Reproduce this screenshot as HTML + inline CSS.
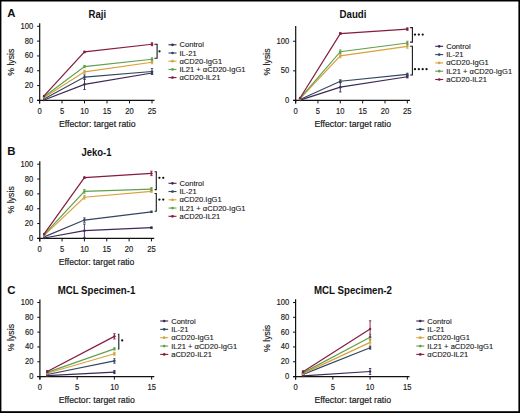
<!DOCTYPE html><html><head><meta charset="utf-8"><style>html,body{margin:0;padding:0;background:#fff;}svg{display:block;}</style></head><body>
<svg width="520" height="413" viewBox="0 0 520 413" font-family="'Liberation Sans', sans-serif">
<rect x="0" y="0" width="520" height="413" fill="#fff"/>
<path d="M39.7 23.2V103.4M37.1 100.4H154.5" stroke="#111" stroke-width="1.2" fill="none"/>
<path d="M37.1 100.4H39.7M37.1 85.58H39.7M37.1 70.76H39.7M37.1 55.94H39.7M37.1 41.12H39.7M37.1 26.3H39.7M39.5 100.4V103.4M62 100.4V103.4M84.5 100.4V103.4M107 100.4V103.4M129.5 100.4V103.4M152 100.4V103.4" stroke="#111" stroke-width="1" fill="none"/>
<text x="33.2" y="102.9" text-anchor="end" font-size="8.2" fill="#1a1a1a" stroke="#1a1a1a" stroke-width="0.15" textLength="4.24" lengthAdjust="spacingAndGlyphs">0</text>
<text x="33.2" y="88.08" text-anchor="end" font-size="8.2" fill="#1a1a1a" stroke="#1a1a1a" stroke-width="0.15" textLength="8.48" lengthAdjust="spacingAndGlyphs">20</text>
<text x="33.2" y="73.26" text-anchor="end" font-size="8.2" fill="#1a1a1a" stroke="#1a1a1a" stroke-width="0.15" textLength="8.48" lengthAdjust="spacingAndGlyphs">40</text>
<text x="33.2" y="58.44" text-anchor="end" font-size="8.2" fill="#1a1a1a" stroke="#1a1a1a" stroke-width="0.15" textLength="8.48" lengthAdjust="spacingAndGlyphs">60</text>
<text x="33.2" y="43.62" text-anchor="end" font-size="8.2" fill="#1a1a1a" stroke="#1a1a1a" stroke-width="0.15" textLength="8.48" lengthAdjust="spacingAndGlyphs">80</text>
<text x="33.2" y="28.8" text-anchor="end" font-size="8.2" fill="#1a1a1a" stroke="#1a1a1a" stroke-width="0.15" textLength="12.72" lengthAdjust="spacingAndGlyphs">100</text>
<text x="39.5" y="113.8" text-anchor="middle" font-size="8.2" fill="#1a1a1a" stroke="#1a1a1a" stroke-width="0.15" textLength="4.24" lengthAdjust="spacingAndGlyphs">0</text>
<text x="62" y="113.8" text-anchor="middle" font-size="8.2" fill="#1a1a1a" stroke="#1a1a1a" stroke-width="0.15" textLength="4.24" lengthAdjust="spacingAndGlyphs">5</text>
<text x="84.5" y="113.8" text-anchor="middle" font-size="8.2" fill="#1a1a1a" stroke="#1a1a1a" stroke-width="0.15" textLength="8.48" lengthAdjust="spacingAndGlyphs">10</text>
<text x="107" y="113.8" text-anchor="middle" font-size="8.2" fill="#1a1a1a" stroke="#1a1a1a" stroke-width="0.15" textLength="8.48" lengthAdjust="spacingAndGlyphs">15</text>
<text x="129.5" y="113.8" text-anchor="middle" font-size="8.2" fill="#1a1a1a" stroke="#1a1a1a" stroke-width="0.15" textLength="8.48" lengthAdjust="spacingAndGlyphs">20</text>
<text x="152" y="113.8" text-anchor="middle" font-size="8.2" fill="#1a1a1a" stroke="#1a1a1a" stroke-width="0.15" textLength="8.48" lengthAdjust="spacingAndGlyphs">25</text>
<text x="59" y="126.9" font-size="9.7" fill="#1a1a1a" stroke="#1a1a1a" stroke-width="0.2" textLength="76.5" lengthAdjust="spacingAndGlyphs">Effector: target ratio</text>
<text transform="translate(14.4 62.2) rotate(-90)" text-anchor="middle" font-size="9.6" fill="#1a1a1a" stroke="#1a1a1a" stroke-width="0.15" textLength="27.2" lengthAdjust="spacingAndGlyphs">% lysis</text>
<text x="97.3" y="17.5" text-anchor="middle" font-size="10.3" font-weight="bold" fill="#111" textLength="17.6" lengthAdjust="spacingAndGlyphs">Raji</text>
<polyline points="44,100.03 84.5,84.32 152,72.98" stroke="#3e2857" stroke-width="1.2" fill="none"/>
<polyline points="44,98.92 84.5,77.06 152,71.5" stroke="#33465f" stroke-width="1.2" fill="none"/>
<polyline points="44,97.44 84.5,71.8 152,62.24" stroke="#d9a23c" stroke-width="1.2" fill="none"/>
<polyline points="44,96.7 84.5,66.54 152,59.27" stroke="#62a050" stroke-width="1.2" fill="none"/>
<polyline points="44,95.95 84.5,51.94 152,44.23" stroke="#861b3e" stroke-width="1.2" fill="none"/>
<circle cx="44" cy="100.03" r="1.2" fill="#3e2857"/>
<path d="M84.5 79.13V89.51M83.3 79.13h2.4M83.3 89.51h2.4" stroke="#3e2857" stroke-width="0.9" fill="none"/>
<circle cx="84.5" cy="84.32" r="1.2" fill="#3e2857"/>
<path d="M152 71.87V74.09M150.8 71.87h2.4M150.8 74.09h2.4" stroke="#3e2857" stroke-width="0.9" fill="none"/>
<circle cx="152" cy="72.98" r="1.2" fill="#3e2857"/>
<circle cx="44" cy="98.92" r="1.2" fill="#33465f"/>
<path d="M84.5 74.84V79.28M83.3 74.84h2.4M83.3 79.28h2.4" stroke="#33465f" stroke-width="0.9" fill="none"/>
<circle cx="84.5" cy="77.06" r="1.2" fill="#33465f"/>
<path d="M152 68.54V74.47M150.8 68.54h2.4M150.8 74.47h2.4" stroke="#33465f" stroke-width="0.9" fill="none"/>
<circle cx="152" cy="71.5" r="1.2" fill="#33465f"/>
<circle cx="44" cy="97.44" r="1.2" fill="#d9a23c"/>
<path d="M84.5 70.32V73.28M83.3 70.32h2.4M83.3 73.28h2.4" stroke="#d9a23c" stroke-width="0.9" fill="none"/>
<circle cx="84.5" cy="71.8" r="1.2" fill="#d9a23c"/>
<path d="M152 60.76V63.72M150.8 60.76h2.4M150.8 63.72h2.4" stroke="#d9a23c" stroke-width="0.9" fill="none"/>
<circle cx="152" cy="62.24" r="1.2" fill="#d9a23c"/>
<circle cx="44" cy="96.7" r="1.2" fill="#62a050"/>
<path d="M84.5 65.42V67.65M83.3 65.42h2.4M83.3 67.65h2.4" stroke="#62a050" stroke-width="0.9" fill="none"/>
<circle cx="84.5" cy="66.54" r="1.2" fill="#62a050"/>
<path d="M152 57.79V60.76M150.8 57.79h2.4M150.8 60.76h2.4" stroke="#62a050" stroke-width="0.9" fill="none"/>
<circle cx="152" cy="59.27" r="1.2" fill="#62a050"/>
<circle cx="44" cy="95.95" r="1.2" fill="#861b3e"/>
<path d="M84.5 51.2V52.68M83.3 51.2h2.4M83.3 52.68h2.4" stroke="#861b3e" stroke-width="0.9" fill="none"/>
<circle cx="84.5" cy="51.94" r="1.2" fill="#861b3e"/>
<path d="M152 42.75V45.71M150.8 42.75h2.4M150.8 45.71h2.4" stroke="#861b3e" stroke-width="0.9" fill="none"/>
<circle cx="152" cy="44.23" r="1.2" fill="#861b3e"/>
<path d="M154.4 44.3H157.1V58.3H154.4" stroke="#1a1a1a" stroke-width="1.1" fill="none"/>
<circle cx="159.5" cy="51.3" r="1.15" fill="#111"/>
<path d="M168.5 44.8h8" stroke="#3e2857" stroke-width="1.1"/>
<circle cx="172.5" cy="44.8" r="1.35" fill="#3e2857"/>
<text x="179.5" y="47.35" font-size="7.8" fill="#1a1a1a" stroke="#1a1a1a" stroke-width="0.12" textLength="24.39" lengthAdjust="spacingAndGlyphs">Control</text>
<path d="M168.5 53h8" stroke="#33465f" stroke-width="1.1"/>
<circle cx="172.5" cy="53" r="1.35" fill="#33465f"/>
<text x="179.5" y="55.55" font-size="7.8" fill="#1a1a1a" stroke="#1a1a1a" stroke-width="0.12" textLength="17.25" lengthAdjust="spacingAndGlyphs">IL-21</text>
<path d="M168.5 61.2h8" stroke="#d9a23c" stroke-width="1.1"/>
<circle cx="172.5" cy="61.2" r="1.35" fill="#d9a23c"/>
<text x="179.5" y="63.75" font-size="7.8" fill="#1a1a1a" stroke="#1a1a1a" stroke-width="0.12" textLength="42.63" lengthAdjust="spacingAndGlyphs">αCD20-IgG1</text>
<path d="M168.5 69.4h8" stroke="#62a050" stroke-width="1.1"/>
<circle cx="172.5" cy="69.4" r="1.35" fill="#62a050"/>
<text x="179.5" y="71.95" font-size="7.8" fill="#1a1a1a" stroke="#1a1a1a" stroke-width="0.12" textLength="65.98" lengthAdjust="spacingAndGlyphs">IL21 + αCD20-IgG1</text>
<path d="M168.5 77.6h8" stroke="#861b3e" stroke-width="1.1"/>
<circle cx="172.5" cy="77.6" r="1.35" fill="#861b3e"/>
<text x="179.5" y="80.15" font-size="7.8" fill="#1a1a1a" stroke="#1a1a1a" stroke-width="0.12" textLength="40.95" lengthAdjust="spacingAndGlyphs">αCD20-IL21</text>
<path d="M295.7 26V103.4M293.1 100.4H410" stroke="#111" stroke-width="1.2" fill="none"/>
<path d="M293.1 100.4H295.7M293.1 70.83H295.7M293.1 41.25H295.7M295.6 100.4V103.4M317.95 100.4V103.4M340.3 100.4V103.4M362.65 100.4V103.4M385 100.4V103.4M407.35 100.4V103.4" stroke="#111" stroke-width="1" fill="none"/>
<text x="289.3" y="102.9" text-anchor="end" font-size="8.2" fill="#1a1a1a" stroke="#1a1a1a" stroke-width="0.15" textLength="4.24" lengthAdjust="spacingAndGlyphs">0</text>
<text x="289.3" y="73.33" text-anchor="end" font-size="8.2" fill="#1a1a1a" stroke="#1a1a1a" stroke-width="0.15" textLength="8.48" lengthAdjust="spacingAndGlyphs">50</text>
<text x="289.3" y="43.75" text-anchor="end" font-size="8.2" fill="#1a1a1a" stroke="#1a1a1a" stroke-width="0.15" textLength="12.72" lengthAdjust="spacingAndGlyphs">100</text>
<text x="295.6" y="113.8" text-anchor="middle" font-size="8.2" fill="#1a1a1a" stroke="#1a1a1a" stroke-width="0.15" textLength="4.24" lengthAdjust="spacingAndGlyphs">0</text>
<text x="317.95" y="113.8" text-anchor="middle" font-size="8.2" fill="#1a1a1a" stroke="#1a1a1a" stroke-width="0.15" textLength="4.24" lengthAdjust="spacingAndGlyphs">5</text>
<text x="340.3" y="113.8" text-anchor="middle" font-size="8.2" fill="#1a1a1a" stroke="#1a1a1a" stroke-width="0.15" textLength="8.48" lengthAdjust="spacingAndGlyphs">10</text>
<text x="362.65" y="113.8" text-anchor="middle" font-size="8.2" fill="#1a1a1a" stroke="#1a1a1a" stroke-width="0.15" textLength="8.48" lengthAdjust="spacingAndGlyphs">15</text>
<text x="385" y="113.8" text-anchor="middle" font-size="8.2" fill="#1a1a1a" stroke="#1a1a1a" stroke-width="0.15" textLength="8.48" lengthAdjust="spacingAndGlyphs">20</text>
<text x="407.35" y="113.8" text-anchor="middle" font-size="8.2" fill="#1a1a1a" stroke="#1a1a1a" stroke-width="0.15" textLength="8.48" lengthAdjust="spacingAndGlyphs">25</text>
<text x="314.5" y="126.9" font-size="9.7" fill="#1a1a1a" stroke="#1a1a1a" stroke-width="0.2" textLength="76.5" lengthAdjust="spacingAndGlyphs">Effector: target ratio</text>
<text transform="translate(269.7 62) rotate(-90)" text-anchor="middle" font-size="9.6" fill="#1a1a1a" stroke="#1a1a1a" stroke-width="0.15" textLength="27.2" lengthAdjust="spacingAndGlyphs">% lysis</text>
<text x="353" y="17.8" text-anchor="middle" font-size="10.3" font-weight="bold" fill="#111" textLength="27" lengthAdjust="spacingAndGlyphs">Daudi</text>
<polyline points="300.07,100.1 340.3,87.21 407.35,76.74" stroke="#3e2857" stroke-width="1.2" fill="none"/>
<polyline points="300.07,99.51 340.3,81.24 407.35,74.37" stroke="#33465f" stroke-width="1.2" fill="none"/>
<polyline points="300.07,98.63 340.3,55.92 407.35,46.46" stroke="#d9a23c" stroke-width="1.2" fill="none"/>
<polyline points="300.07,98.33 340.3,51.72 407.35,43.02" stroke="#62a050" stroke-width="1.2" fill="none"/>
<polyline points="300.07,98.03 340.3,33.56 407.35,29.07" stroke="#861b3e" stroke-width="1.2" fill="none"/>
<circle cx="300.07" cy="100.1" r="1.2" fill="#3e2857"/>
<path d="M340.3 82.48V91.94M339.1 82.48h2.4M339.1 91.94h2.4" stroke="#3e2857" stroke-width="0.9" fill="none"/>
<circle cx="340.3" cy="87.21" r="1.2" fill="#3e2857"/>
<path d="M407.35 75.56V77.92M406.15 75.56h2.4M406.15 77.92h2.4" stroke="#3e2857" stroke-width="0.9" fill="none"/>
<circle cx="407.35" cy="76.74" r="1.2" fill="#3e2857"/>
<circle cx="300.07" cy="99.51" r="1.2" fill="#33465f"/>
<path d="M340.3 79.76V82.71M339.1 79.76h2.4M339.1 82.71h2.4" stroke="#33465f" stroke-width="0.9" fill="none"/>
<circle cx="340.3" cy="81.24" r="1.2" fill="#33465f"/>
<path d="M407.35 73.19V75.56M406.15 73.19h2.4M406.15 75.56h2.4" stroke="#33465f" stroke-width="0.9" fill="none"/>
<circle cx="407.35" cy="74.37" r="1.2" fill="#33465f"/>
<circle cx="300.07" cy="98.63" r="1.2" fill="#d9a23c"/>
<path d="M340.3 54.14V57.69M339.1 54.14h2.4M339.1 57.69h2.4" stroke="#d9a23c" stroke-width="0.9" fill="none"/>
<circle cx="340.3" cy="55.92" r="1.2" fill="#d9a23c"/>
<path d="M407.35 44.68V48.23M406.15 44.68h2.4M406.15 48.23h2.4" stroke="#d9a23c" stroke-width="0.9" fill="none"/>
<circle cx="407.35" cy="46.46" r="1.2" fill="#d9a23c"/>
<circle cx="300.07" cy="98.33" r="1.2" fill="#62a050"/>
<path d="M340.3 49.95V53.49M339.1 49.95h2.4M339.1 53.49h2.4" stroke="#62a050" stroke-width="0.9" fill="none"/>
<circle cx="340.3" cy="51.72" r="1.2" fill="#62a050"/>
<path d="M407.35 41.25V44.8M406.15 41.25h2.4M406.15 44.8h2.4" stroke="#62a050" stroke-width="0.9" fill="none"/>
<circle cx="407.35" cy="43.02" r="1.2" fill="#62a050"/>
<circle cx="300.07" cy="98.03" r="1.2" fill="#861b3e"/>
<path d="M340.3 32.67V34.45M339.1 32.67h2.4M339.1 34.45h2.4" stroke="#861b3e" stroke-width="0.9" fill="none"/>
<circle cx="340.3" cy="33.56" r="1.2" fill="#861b3e"/>
<path d="M407.35 27.88V30.25M406.15 27.88h2.4M406.15 30.25h2.4" stroke="#861b3e" stroke-width="0.9" fill="none"/>
<circle cx="407.35" cy="29.07" r="1.2" fill="#861b3e"/>
<path d="M410.1 27.6H412.4V42.1H410.1" stroke="#1a1a1a" stroke-width="1.1" fill="none"/>
<path d="M410.1 46.2H412.4V75H410.1" stroke="#1a1a1a" stroke-width="1.1" fill="none"/>
<circle cx="415" cy="34.6" r="1.15" fill="#111"/>
<circle cx="418.85" cy="34.6" r="1.15" fill="#111"/>
<circle cx="422.7" cy="34.6" r="1.15" fill="#111"/>
<circle cx="415" cy="69.2" r="1.15" fill="#111"/>
<circle cx="418.85" cy="69.2" r="1.15" fill="#111"/>
<circle cx="422.7" cy="69.2" r="1.15" fill="#111"/>
<circle cx="426.55" cy="69.2" r="1.15" fill="#111"/>
<path d="M435.2 46.3h8" stroke="#3e2857" stroke-width="1.1"/>
<circle cx="439.2" cy="46.3" r="1.35" fill="#3e2857"/>
<text x="446.2" y="48.85" font-size="7.8" fill="#1a1a1a" stroke="#1a1a1a" stroke-width="0.12" textLength="24.39" lengthAdjust="spacingAndGlyphs">Control</text>
<path d="M435.2 54.6h8" stroke="#33465f" stroke-width="1.1"/>
<circle cx="439.2" cy="54.6" r="1.35" fill="#33465f"/>
<text x="446.2" y="57.15" font-size="7.8" fill="#1a1a1a" stroke="#1a1a1a" stroke-width="0.12" textLength="17.25" lengthAdjust="spacingAndGlyphs">IL-21</text>
<path d="M435.2 62.9h8" stroke="#d9a23c" stroke-width="1.1"/>
<circle cx="439.2" cy="62.9" r="1.35" fill="#d9a23c"/>
<text x="446.2" y="65.45" font-size="7.8" fill="#1a1a1a" stroke="#1a1a1a" stroke-width="0.12" textLength="42.63" lengthAdjust="spacingAndGlyphs">αCD20-IgG1</text>
<path d="M435.2 71.2h8" stroke="#62a050" stroke-width="1.1"/>
<circle cx="439.2" cy="71.2" r="1.35" fill="#62a050"/>
<text x="446.2" y="73.75" font-size="7.8" fill="#1a1a1a" stroke="#1a1a1a" stroke-width="0.12" textLength="65.98" lengthAdjust="spacingAndGlyphs">IL21 + αCD20-IgG1</text>
<path d="M435.2 79.5h8" stroke="#861b3e" stroke-width="1.1"/>
<circle cx="439.2" cy="79.5" r="1.35" fill="#861b3e"/>
<text x="446.2" y="82.05" font-size="7.8" fill="#1a1a1a" stroke="#1a1a1a" stroke-width="0.12" textLength="40.79" lengthAdjust="spacingAndGlyphs">aCD20-IL21</text>
<path d="M39.8 161.2V241.4M37.2 238.4H154.2" stroke="#111" stroke-width="1.2" fill="none"/>
<path d="M37.2 238.4H39.8M37.2 223.56H39.8M37.2 208.72H39.8M37.2 193.88H39.8M37.2 179.04H39.8M37.2 164.2H39.8M39.7 238.4V241.4M62.05 238.4V241.4M84.4 238.4V241.4M106.75 238.4V241.4M129.1 238.4V241.4M151.45 238.4V241.4" stroke="#111" stroke-width="1" fill="none"/>
<text x="33.2" y="240.9" text-anchor="end" font-size="8.2" fill="#1a1a1a" stroke="#1a1a1a" stroke-width="0.15" textLength="4.24" lengthAdjust="spacingAndGlyphs">0</text>
<text x="33.2" y="226.06" text-anchor="end" font-size="8.2" fill="#1a1a1a" stroke="#1a1a1a" stroke-width="0.15" textLength="8.48" lengthAdjust="spacingAndGlyphs">20</text>
<text x="33.2" y="211.22" text-anchor="end" font-size="8.2" fill="#1a1a1a" stroke="#1a1a1a" stroke-width="0.15" textLength="8.48" lengthAdjust="spacingAndGlyphs">40</text>
<text x="33.2" y="196.38" text-anchor="end" font-size="8.2" fill="#1a1a1a" stroke="#1a1a1a" stroke-width="0.15" textLength="8.48" lengthAdjust="spacingAndGlyphs">60</text>
<text x="33.2" y="181.54" text-anchor="end" font-size="8.2" fill="#1a1a1a" stroke="#1a1a1a" stroke-width="0.15" textLength="8.48" lengthAdjust="spacingAndGlyphs">80</text>
<text x="33.2" y="166.7" text-anchor="end" font-size="8.2" fill="#1a1a1a" stroke="#1a1a1a" stroke-width="0.15" textLength="12.72" lengthAdjust="spacingAndGlyphs">100</text>
<text x="39.7" y="251.5" text-anchor="middle" font-size="8.2" fill="#1a1a1a" stroke="#1a1a1a" stroke-width="0.15" textLength="4.24" lengthAdjust="spacingAndGlyphs">0</text>
<text x="62.05" y="251.5" text-anchor="middle" font-size="8.2" fill="#1a1a1a" stroke="#1a1a1a" stroke-width="0.15" textLength="4.24" lengthAdjust="spacingAndGlyphs">5</text>
<text x="84.4" y="251.5" text-anchor="middle" font-size="8.2" fill="#1a1a1a" stroke="#1a1a1a" stroke-width="0.15" textLength="8.48" lengthAdjust="spacingAndGlyphs">10</text>
<text x="106.75" y="251.5" text-anchor="middle" font-size="8.2" fill="#1a1a1a" stroke="#1a1a1a" stroke-width="0.15" textLength="8.48" lengthAdjust="spacingAndGlyphs">15</text>
<text x="129.1" y="251.5" text-anchor="middle" font-size="8.2" fill="#1a1a1a" stroke="#1a1a1a" stroke-width="0.15" textLength="8.48" lengthAdjust="spacingAndGlyphs">20</text>
<text x="151.45" y="251.5" text-anchor="middle" font-size="8.2" fill="#1a1a1a" stroke="#1a1a1a" stroke-width="0.15" textLength="8.48" lengthAdjust="spacingAndGlyphs">25</text>
<text x="58.8" y="265.1" font-size="9.7" fill="#1a1a1a" stroke="#1a1a1a" stroke-width="0.2" textLength="75.5" lengthAdjust="spacingAndGlyphs">Effector: target ratio</text>
<text transform="translate(14.4 199.8) rotate(-90)" text-anchor="middle" font-size="9.6" fill="#1a1a1a" stroke="#1a1a1a" stroke-width="0.15" textLength="27.2" lengthAdjust="spacingAndGlyphs">% lysis</text>
<text x="96.5" y="155.8" text-anchor="middle" font-size="10.3" font-weight="bold" fill="#111" textLength="30" lengthAdjust="spacingAndGlyphs">Jeko-1</text>
<polyline points="44.17,238.03 84.4,230.68 151.45,227.72" stroke="#3e2857" stroke-width="1.2" fill="none"/>
<polyline points="44.17,236.92 84.4,220.07 151.45,211.84" stroke="#33465f" stroke-width="1.2" fill="none"/>
<polyline points="44.17,235.43 84.4,197.22 151.45,191.28" stroke="#d9a23c" stroke-width="1.2" fill="none"/>
<polyline points="44.17,234.69 84.4,191.28 151.45,189.06" stroke="#62a050" stroke-width="1.2" fill="none"/>
<polyline points="44.17,233.95 84.4,177.63 151.45,173.4" stroke="#861b3e" stroke-width="1.2" fill="none"/>
<circle cx="44.17" cy="238.03" r="1.2" fill="#3e2857"/>
<path d="M84.4 224.01V237.36M83.2 224.01h2.4M83.2 237.36h2.4" stroke="#3e2857" stroke-width="0.9" fill="none"/>
<circle cx="84.4" cy="230.68" r="1.2" fill="#3e2857"/>
<path d="M151.45 226.97V228.46M150.25 226.97h2.4M150.25 228.46h2.4" stroke="#3e2857" stroke-width="0.9" fill="none"/>
<circle cx="151.45" cy="227.72" r="1.2" fill="#3e2857"/>
<circle cx="44.17" cy="236.92" r="1.2" fill="#33465f"/>
<path d="M84.4 217.85V222.3M83.2 217.85h2.4M83.2 222.3h2.4" stroke="#33465f" stroke-width="0.9" fill="none"/>
<circle cx="84.4" cy="220.07" r="1.2" fill="#33465f"/>
<path d="M151.45 211.09V212.58M150.25 211.09h2.4M150.25 212.58h2.4" stroke="#33465f" stroke-width="0.9" fill="none"/>
<circle cx="151.45" cy="211.84" r="1.2" fill="#33465f"/>
<circle cx="44.17" cy="235.43" r="1.2" fill="#d9a23c"/>
<path d="M84.4 195.36V199.07M83.2 195.36h2.4M83.2 199.07h2.4" stroke="#d9a23c" stroke-width="0.9" fill="none"/>
<circle cx="84.4" cy="197.22" r="1.2" fill="#d9a23c"/>
<path d="M151.45 190.17V192.4M150.25 190.17h2.4M150.25 192.4h2.4" stroke="#d9a23c" stroke-width="0.9" fill="none"/>
<circle cx="151.45" cy="191.28" r="1.2" fill="#d9a23c"/>
<circle cx="44.17" cy="234.69" r="1.2" fill="#62a050"/>
<path d="M84.4 189.43V193.14M83.2 189.43h2.4M83.2 193.14h2.4" stroke="#62a050" stroke-width="0.9" fill="none"/>
<circle cx="84.4" cy="191.28" r="1.2" fill="#62a050"/>
<path d="M151.45 187.57V190.54M150.25 187.57h2.4M150.25 190.54h2.4" stroke="#62a050" stroke-width="0.9" fill="none"/>
<circle cx="151.45" cy="189.06" r="1.2" fill="#62a050"/>
<circle cx="44.17" cy="233.95" r="1.2" fill="#861b3e"/>
<path d="M84.4 176.89V178.37M83.2 176.89h2.4M83.2 178.37h2.4" stroke="#861b3e" stroke-width="0.9" fill="none"/>
<circle cx="84.4" cy="177.63" r="1.2" fill="#861b3e"/>
<path d="M151.45 171.17V175.63M150.25 171.17h2.4M150.25 175.63h2.4" stroke="#861b3e" stroke-width="0.9" fill="none"/>
<circle cx="151.45" cy="173.4" r="1.2" fill="#861b3e"/>
<path d="M154.6 171.7H156.3V189.6H154.6" stroke="#1a1a1a" stroke-width="1.1" fill="none"/>
<path d="M154.6 193.5H156.3V211.3H154.6" stroke="#1a1a1a" stroke-width="1.1" fill="none"/>
<circle cx="159.4" cy="177.8" r="1.15" fill="#111"/>
<circle cx="163.25" cy="177.8" r="1.15" fill="#111"/>
<circle cx="159.4" cy="199.6" r="1.15" fill="#111"/>
<circle cx="163.25" cy="199.6" r="1.15" fill="#111"/>
<path d="M168.5 183.3h8" stroke="#3e2857" stroke-width="1.1"/>
<circle cx="172.5" cy="183.3" r="1.35" fill="#3e2857"/>
<text x="179.5" y="185.85" font-size="7.8" fill="#1a1a1a" stroke="#1a1a1a" stroke-width="0.12" textLength="24.39" lengthAdjust="spacingAndGlyphs">Control</text>
<path d="M168.5 191.55h8" stroke="#33465f" stroke-width="1.1"/>
<circle cx="172.5" cy="191.55" r="1.35" fill="#33465f"/>
<text x="179.5" y="194.1" font-size="7.8" fill="#1a1a1a" stroke="#1a1a1a" stroke-width="0.12" textLength="17.25" lengthAdjust="spacingAndGlyphs">IL-21</text>
<path d="M168.5 199.8h8" stroke="#d9a23c" stroke-width="1.1"/>
<circle cx="172.5" cy="199.8" r="1.35" fill="#d9a23c"/>
<text x="179.5" y="202.35" font-size="7.8" fill="#1a1a1a" stroke="#1a1a1a" stroke-width="0.12" textLength="42.21" lengthAdjust="spacingAndGlyphs">αCD20.IgG1</text>
<path d="M168.5 208.05h8" stroke="#62a050" stroke-width="1.1"/>
<circle cx="172.5" cy="208.05" r="1.35" fill="#62a050"/>
<text x="179.5" y="210.6" font-size="7.8" fill="#1a1a1a" stroke="#1a1a1a" stroke-width="0.12" textLength="65.98" lengthAdjust="spacingAndGlyphs">IL21 + αCD20-IgG1</text>
<path d="M168.5 216.3h8" stroke="#861b3e" stroke-width="1.1"/>
<circle cx="172.5" cy="216.3" r="1.35" fill="#861b3e"/>
<text x="179.5" y="218.85" font-size="7.8" fill="#1a1a1a" stroke="#1a1a1a" stroke-width="0.12" textLength="40.79" lengthAdjust="spacingAndGlyphs">aCD20-IL21</text>
<path d="M39.9 299.5V379.6M37.3 376.6H154.3" stroke="#111" stroke-width="1.2" fill="none"/>
<path d="M37.3 376.6H39.9M37.3 361.78H39.9M37.3 346.96H39.9M37.3 332.14H39.9M37.3 317.32H39.9M37.3 302.5H39.9M39.9 376.6V379.6M77.15 376.6V379.6M114.4 376.6V379.6M151.65 376.6V379.6" stroke="#111" stroke-width="1" fill="none"/>
<text x="33.4" y="379.1" text-anchor="end" font-size="8.2" fill="#1a1a1a" stroke="#1a1a1a" stroke-width="0.15" textLength="4.24" lengthAdjust="spacingAndGlyphs">0</text>
<text x="33.4" y="364.28" text-anchor="end" font-size="8.2" fill="#1a1a1a" stroke="#1a1a1a" stroke-width="0.15" textLength="8.48" lengthAdjust="spacingAndGlyphs">20</text>
<text x="33.4" y="349.46" text-anchor="end" font-size="8.2" fill="#1a1a1a" stroke="#1a1a1a" stroke-width="0.15" textLength="8.48" lengthAdjust="spacingAndGlyphs">40</text>
<text x="33.4" y="334.64" text-anchor="end" font-size="8.2" fill="#1a1a1a" stroke="#1a1a1a" stroke-width="0.15" textLength="8.48" lengthAdjust="spacingAndGlyphs">60</text>
<text x="33.4" y="319.82" text-anchor="end" font-size="8.2" fill="#1a1a1a" stroke="#1a1a1a" stroke-width="0.15" textLength="8.48" lengthAdjust="spacingAndGlyphs">80</text>
<text x="33.4" y="305" text-anchor="end" font-size="8.2" fill="#1a1a1a" stroke="#1a1a1a" stroke-width="0.15" textLength="12.72" lengthAdjust="spacingAndGlyphs">100</text>
<text x="39.9" y="389.9" text-anchor="middle" font-size="8.2" fill="#1a1a1a" stroke="#1a1a1a" stroke-width="0.15" textLength="4.24" lengthAdjust="spacingAndGlyphs">0</text>
<text x="77.15" y="389.9" text-anchor="middle" font-size="8.2" fill="#1a1a1a" stroke="#1a1a1a" stroke-width="0.15" textLength="4.24" lengthAdjust="spacingAndGlyphs">5</text>
<text x="114.4" y="389.9" text-anchor="middle" font-size="8.2" fill="#1a1a1a" stroke="#1a1a1a" stroke-width="0.15" textLength="8.48" lengthAdjust="spacingAndGlyphs">10</text>
<text x="151.65" y="389.9" text-anchor="middle" font-size="8.2" fill="#1a1a1a" stroke="#1a1a1a" stroke-width="0.15" textLength="8.48" lengthAdjust="spacingAndGlyphs">15</text>
<text x="58.8" y="403.1" font-size="9.7" fill="#1a1a1a" stroke="#1a1a1a" stroke-width="0.2" textLength="76" lengthAdjust="spacingAndGlyphs">Effector: target ratio</text>
<text transform="translate(14.4 337.6) rotate(-90)" text-anchor="middle" font-size="9.6" fill="#1a1a1a" stroke="#1a1a1a" stroke-width="0.15" textLength="27.2" lengthAdjust="spacingAndGlyphs">% lysis</text>
<text x="96.5" y="294.2" text-anchor="middle" font-size="10.3" font-weight="bold" fill="#111" textLength="77.6" lengthAdjust="spacingAndGlyphs">MCL Specimen-1</text>
<polyline points="47.35,375.71 114.4,372.08" stroke="#3e2857" stroke-width="1.2" fill="none"/>
<polyline points="47.35,374.53 114.4,360.96" stroke="#33465f" stroke-width="1.2" fill="none"/>
<polyline points="47.35,373.27 114.4,353.78" stroke="#d9a23c" stroke-width="1.2" fill="none"/>
<polyline points="47.35,372.38 114.4,348.89" stroke="#62a050" stroke-width="1.2" fill="none"/>
<polyline points="47.35,371.41 114.4,336.36" stroke="#861b3e" stroke-width="1.2" fill="none"/>
<path d="M47.35 374.97V376.45M46.15 374.97h2.4M46.15 376.45h2.4" stroke="#3e2857" stroke-width="0.9" fill="none"/>
<circle cx="47.35" cy="375.71" r="1.2" fill="#3e2857"/>
<path d="M114.4 370.6V373.56M113.2 370.6h2.4M113.2 373.56h2.4" stroke="#3e2857" stroke-width="0.9" fill="none"/>
<circle cx="114.4" cy="372.08" r="1.2" fill="#3e2857"/>
<path d="M47.35 373.78V375.27M46.15 373.78h2.4M46.15 375.27h2.4" stroke="#33465f" stroke-width="0.9" fill="none"/>
<circle cx="47.35" cy="374.53" r="1.2" fill="#33465f"/>
<path d="M114.4 358.74V363.19M113.2 358.74h2.4M113.2 363.19h2.4" stroke="#33465f" stroke-width="0.9" fill="none"/>
<circle cx="114.4" cy="360.96" r="1.2" fill="#33465f"/>
<path d="M47.35 372.52V374.01M46.15 372.52h2.4M46.15 374.01h2.4" stroke="#d9a23c" stroke-width="0.9" fill="none"/>
<circle cx="47.35" cy="373.27" r="1.2" fill="#d9a23c"/>
<path d="M114.4 352.3V355.26M113.2 352.3h2.4M113.2 355.26h2.4" stroke="#d9a23c" stroke-width="0.9" fill="none"/>
<circle cx="114.4" cy="353.78" r="1.2" fill="#d9a23c"/>
<path d="M47.35 371.64V373.12M46.15 371.64h2.4M46.15 373.12h2.4" stroke="#62a050" stroke-width="0.9" fill="none"/>
<circle cx="47.35" cy="372.38" r="1.2" fill="#62a050"/>
<path d="M114.4 347.78V350M113.2 347.78h2.4M113.2 350h2.4" stroke="#62a050" stroke-width="0.9" fill="none"/>
<circle cx="114.4" cy="348.89" r="1.2" fill="#62a050"/>
<path d="M47.35 370.52V372.3M46.15 370.52h2.4M46.15 372.3h2.4" stroke="#861b3e" stroke-width="0.9" fill="none"/>
<circle cx="47.35" cy="371.41" r="1.2" fill="#861b3e"/>
<path d="M114.4 333.77V338.96M113.2 333.77h2.4M113.2 338.96h2.4" stroke="#861b3e" stroke-width="0.9" fill="none"/>
<circle cx="114.4" cy="336.36" r="1.2" fill="#861b3e"/>
<path d="M117.9 334.2H118.8V349H117.9" stroke="#1a1a1a" stroke-width="1.1" fill="none"/>
<circle cx="122.2" cy="340.4" r="1.15" fill="#111"/>
<path d="M160.2 321h8" stroke="#3e2857" stroke-width="1.1"/>
<circle cx="164.2" cy="321" r="1.35" fill="#3e2857"/>
<text x="171.2" y="323.55" font-size="7.8" fill="#1a1a1a" stroke="#1a1a1a" stroke-width="0.12" textLength="24.39" lengthAdjust="spacingAndGlyphs">Control</text>
<path d="M160.2 329.35h8" stroke="#33465f" stroke-width="1.1"/>
<circle cx="164.2" cy="329.35" r="1.35" fill="#33465f"/>
<text x="171.2" y="331.9" font-size="7.8" fill="#1a1a1a" stroke="#1a1a1a" stroke-width="0.12" textLength="17.25" lengthAdjust="spacingAndGlyphs">IL-21</text>
<path d="M160.2 337.7h8" stroke="#d9a23c" stroke-width="1.1"/>
<circle cx="164.2" cy="337.7" r="1.35" fill="#d9a23c"/>
<text x="171.2" y="340.25" font-size="7.8" fill="#1a1a1a" stroke="#1a1a1a" stroke-width="0.12" textLength="42.63" lengthAdjust="spacingAndGlyphs">αCD20-IgG1</text>
<path d="M160.2 346.05h8" stroke="#62a050" stroke-width="1.1"/>
<circle cx="164.2" cy="346.05" r="1.35" fill="#62a050"/>
<text x="171.2" y="348.6" font-size="7.8" fill="#1a1a1a" stroke="#1a1a1a" stroke-width="0.12" textLength="65.98" lengthAdjust="spacingAndGlyphs">IL21 + αCD20-IgG1</text>
<path d="M160.2 354.4h8" stroke="#861b3e" stroke-width="1.1"/>
<circle cx="164.2" cy="354.4" r="1.35" fill="#861b3e"/>
<text x="171.2" y="356.95" font-size="7.8" fill="#1a1a1a" stroke="#1a1a1a" stroke-width="0.12" textLength="40.79" lengthAdjust="spacingAndGlyphs">aCD20-IL21</text>
<path d="M295.6 299.2V379.6M293 376.6H409.5" stroke="#111" stroke-width="1.2" fill="none"/>
<path d="M293 376.6H295.6M293 361.78H295.6M293 346.96H295.6M293 332.14H295.6M293 317.32H295.6M293 302.5H295.6M295.6 376.6V379.6M332.85 376.6V379.6M370.1 376.6V379.6M407.35 376.6V379.6" stroke="#111" stroke-width="1" fill="none"/>
<text x="289.3" y="379.1" text-anchor="end" font-size="8.2" fill="#1a1a1a" stroke="#1a1a1a" stroke-width="0.15" textLength="4.24" lengthAdjust="spacingAndGlyphs">0</text>
<text x="289.3" y="364.28" text-anchor="end" font-size="8.2" fill="#1a1a1a" stroke="#1a1a1a" stroke-width="0.15" textLength="8.48" lengthAdjust="spacingAndGlyphs">20</text>
<text x="289.3" y="349.46" text-anchor="end" font-size="8.2" fill="#1a1a1a" stroke="#1a1a1a" stroke-width="0.15" textLength="8.48" lengthAdjust="spacingAndGlyphs">40</text>
<text x="289.3" y="334.64" text-anchor="end" font-size="8.2" fill="#1a1a1a" stroke="#1a1a1a" stroke-width="0.15" textLength="8.48" lengthAdjust="spacingAndGlyphs">60</text>
<text x="289.3" y="319.82" text-anchor="end" font-size="8.2" fill="#1a1a1a" stroke="#1a1a1a" stroke-width="0.15" textLength="8.48" lengthAdjust="spacingAndGlyphs">80</text>
<text x="289.3" y="305" text-anchor="end" font-size="8.2" fill="#1a1a1a" stroke="#1a1a1a" stroke-width="0.15" textLength="12.72" lengthAdjust="spacingAndGlyphs">100</text>
<text x="295.6" y="389.9" text-anchor="middle" font-size="8.2" fill="#1a1a1a" stroke="#1a1a1a" stroke-width="0.15" textLength="4.24" lengthAdjust="spacingAndGlyphs">0</text>
<text x="332.85" y="389.9" text-anchor="middle" font-size="8.2" fill="#1a1a1a" stroke="#1a1a1a" stroke-width="0.15" textLength="4.24" lengthAdjust="spacingAndGlyphs">5</text>
<text x="370.1" y="389.9" text-anchor="middle" font-size="8.2" fill="#1a1a1a" stroke="#1a1a1a" stroke-width="0.15" textLength="8.48" lengthAdjust="spacingAndGlyphs">10</text>
<text x="407.35" y="389.9" text-anchor="middle" font-size="8.2" fill="#1a1a1a" stroke="#1a1a1a" stroke-width="0.15" textLength="8.48" lengthAdjust="spacingAndGlyphs">15</text>
<text x="314.5" y="403.1" font-size="9.7" fill="#1a1a1a" stroke="#1a1a1a" stroke-width="0.2" textLength="76.5" lengthAdjust="spacingAndGlyphs">Effector: target ratio</text>
<text transform="translate(269.7 338.4) rotate(-90)" text-anchor="middle" font-size="9.6" fill="#1a1a1a" stroke="#1a1a1a" stroke-width="0.15" textLength="27.2" lengthAdjust="spacingAndGlyphs">% lysis</text>
<text x="353" y="294.2" text-anchor="middle" font-size="10.3" font-weight="bold" fill="#111" textLength="78" lengthAdjust="spacingAndGlyphs">MCL Specimen-2</text>
<polyline points="303.05,375.86 370.1,371.49" stroke="#3e2857" stroke-width="1.2" fill="none"/>
<polyline points="303.05,374.38 370.1,347.7" stroke="#33465f" stroke-width="1.2" fill="none"/>
<polyline points="303.05,373.64 370.1,342.37" stroke="#d9a23c" stroke-width="1.2" fill="none"/>
<polyline points="303.05,372.9 370.1,337.18" stroke="#62a050" stroke-width="1.2" fill="none"/>
<polyline points="303.05,371.71 370.1,328.95" stroke="#861b3e" stroke-width="1.2" fill="none"/>
<path d="M303.05 375.12V376.6M301.85 375.12h2.4M301.85 376.6h2.4" stroke="#3e2857" stroke-width="0.9" fill="none"/>
<circle cx="303.05" cy="375.86" r="1.2" fill="#3e2857"/>
<path d="M370.1 368.52V374.45M368.9 368.52h2.4M368.9 374.45h2.4" stroke="#3e2857" stroke-width="0.9" fill="none"/>
<circle cx="370.1" cy="371.49" r="1.2" fill="#3e2857"/>
<path d="M303.05 373.64V375.12M301.85 373.64h2.4M301.85 375.12h2.4" stroke="#33465f" stroke-width="0.9" fill="none"/>
<circle cx="303.05" cy="374.38" r="1.2" fill="#33465f"/>
<path d="M370.1 346.22V349.18M368.9 346.22h2.4M368.9 349.18h2.4" stroke="#33465f" stroke-width="0.9" fill="none"/>
<circle cx="370.1" cy="347.7" r="1.2" fill="#33465f"/>
<path d="M303.05 372.9V374.38M301.85 372.9h2.4M301.85 374.38h2.4" stroke="#d9a23c" stroke-width="0.9" fill="none"/>
<circle cx="303.05" cy="373.64" r="1.2" fill="#d9a23c"/>
<path d="M370.1 339.4V345.33M368.9 339.4h2.4M368.9 345.33h2.4" stroke="#d9a23c" stroke-width="0.9" fill="none"/>
<circle cx="370.1" cy="342.37" r="1.2" fill="#d9a23c"/>
<path d="M303.05 372.15V373.64M301.85 372.15h2.4M301.85 373.64h2.4" stroke="#62a050" stroke-width="0.9" fill="none"/>
<circle cx="303.05" cy="372.9" r="1.2" fill="#62a050"/>
<path d="M370.1 334.21V340.14M368.9 334.21h2.4M368.9 340.14h2.4" stroke="#62a050" stroke-width="0.9" fill="none"/>
<circle cx="370.1" cy="337.18" r="1.2" fill="#62a050"/>
<path d="M303.05 370.82V372.6M301.85 370.82h2.4M301.85 372.6h2.4" stroke="#861b3e" stroke-width="0.9" fill="none"/>
<circle cx="303.05" cy="371.71" r="1.2" fill="#861b3e"/>
<path d="M370.1 320.8V337.1M368.9 320.8h2.4M368.9 337.1h2.4" stroke="#861b3e" stroke-width="0.9" fill="none"/>
<circle cx="370.1" cy="328.95" r="1.2" fill="#861b3e"/>
<path d="M416.3 321h8" stroke="#3e2857" stroke-width="1.1"/>
<circle cx="420.3" cy="321" r="1.35" fill="#3e2857"/>
<text x="427.3" y="323.55" font-size="7.8" fill="#1a1a1a" stroke="#1a1a1a" stroke-width="0.12" textLength="24.39" lengthAdjust="spacingAndGlyphs">Control</text>
<path d="M416.3 329.35h8" stroke="#33465f" stroke-width="1.1"/>
<circle cx="420.3" cy="329.35" r="1.35" fill="#33465f"/>
<text x="427.3" y="331.9" font-size="7.8" fill="#1a1a1a" stroke="#1a1a1a" stroke-width="0.12" textLength="17.25" lengthAdjust="spacingAndGlyphs">IL-21</text>
<path d="M416.3 337.7h8" stroke="#d9a23c" stroke-width="1.1"/>
<circle cx="420.3" cy="337.7" r="1.35" fill="#d9a23c"/>
<text x="427.3" y="340.25" font-size="7.8" fill="#1a1a1a" stroke="#1a1a1a" stroke-width="0.12" textLength="42.63" lengthAdjust="spacingAndGlyphs">αCD20-IgG1</text>
<path d="M416.3 346.05h8" stroke="#62a050" stroke-width="1.1"/>
<circle cx="420.3" cy="346.05" r="1.35" fill="#62a050"/>
<text x="427.3" y="348.6" font-size="7.8" fill="#1a1a1a" stroke="#1a1a1a" stroke-width="0.12" textLength="65.8" lengthAdjust="spacingAndGlyphs">IL21 + aCD20-IgG1</text>
<path d="M416.3 354.4h8" stroke="#861b3e" stroke-width="1.1"/>
<circle cx="420.3" cy="354.4" r="1.35" fill="#861b3e"/>
<text x="427.3" y="356.95" font-size="7.8" fill="#1a1a1a" stroke="#1a1a1a" stroke-width="0.12" textLength="40.95" lengthAdjust="spacingAndGlyphs">αCD20-IL21</text>
<text x="7.3" y="16.8" font-size="11.4" font-weight="bold" fill="#111">A</text>
<text x="7.3" y="155" font-size="11.4" font-weight="bold" fill="#111">B</text>
<text x="7.3" y="293.7" font-size="11.4" font-weight="bold" fill="#111">C</text>
<rect x="0" y="0" width="520" height="1.5" fill="#000"/><rect x="0" y="0" width="1.4" height="413" fill="#000"/><rect x="518.4" y="0" width="1.6" height="413" fill="#000"/><rect x="0" y="411.2" width="520" height="1.8" fill="#000"/>
</svg></body></html>
